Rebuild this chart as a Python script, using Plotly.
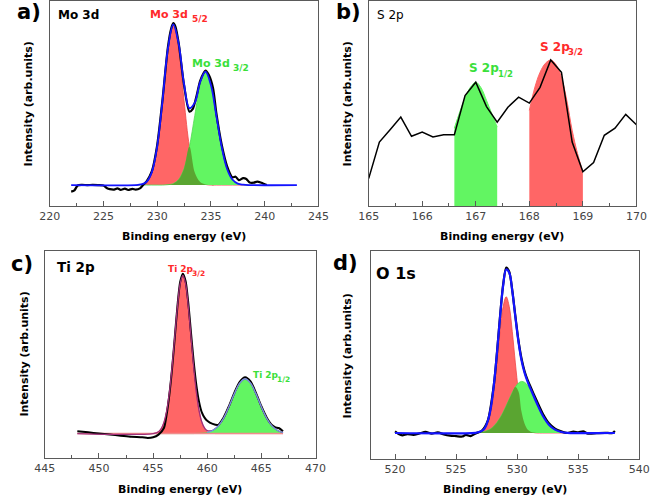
import plotly.graph_objects as go

W, H = 660, 499

# ---------------- Panel a: Mo 3d ----------------
a_exp_x = [222.0, 222.3, 222.6, 223.0, 223.5, 224.0, 224.5, 225.0, 225.3, 225.6, 226.0, 226.3, 226.6,
           227.0, 227.3, 227.7, 228.0, 228.4, 228.7, 229.0, 229.5, 230.0, 230.5, 231.0, 231.3, 231.5,
           231.7, 232.0, 232.5, 233.0, 233.3, 233.7, 234.0, 234.5, 234.8, 235.2, 235.5, 236.0, 236.5,
           237.0, 237.3, 237.6, 238.0, 238.3, 238.6, 239.0, 239.3, 239.7, 240.0, 240.2]
a_exp_y = [7.0, 7.6, 10.0, 10.3, 10.2, 10.3, 10.2, 10.0, 8.8, 8.2, 8.0, 8.6, 7.9,
           8.5, 7.8, 8.4, 8.0, 8.6, 10.3, 11.9, 16.9, 29.6, 52.0, 77.5, 86.5, 89.2,
           87.5, 79.5, 59.0, 46.0, 47.2, 54.5, 61.0, 66.0, 64.0, 57.5, 45.5, 30.0, 19.5,
           14.0, 14.3, 12.6, 13.6, 13.2, 11.5, 11.4, 11.9, 11.3, 10.6, 10.2]
a_grid = [228.0, 228.5, 229.0, 229.5, 230.0, 230.5, 231.0, 231.5, 232.0, 232.5, 233.0, 233.5,
          234.0, 234.5, 235.0, 235.5, 236.0, 236.5, 237.0, 237.5, 238.0, 238.5]
a_red = [10.2, 10.5, 11.7, 16.4, 29.0, 51.5, 76.5, 87.9, 76.5, 51.5, 29.0, 16.4,
         11.7, 10.5, 10.2, 10.2, 10.2, 10.2, 10.2, 10.2, 10.2, 10.2]
a_green = [10.2, 10.2, 10.2, 10.2, 10.2, 10.2, 10.4, 10.9, 12.9, 18.2, 28.9, 44.2,
           59.0, 65.2, 59.0, 44.2, 28.9, 18.2, 12.9, 10.9, 10.4, 10.2]
a_base = 10.2
a_env_start, a_env_end = 222.0, 243.0

# ---------------- Panel b: S 2p ----------------
b_exp_x = [165.0, 165.2, 165.4, 165.6, 165.8, 166.0, 166.2, 166.4, 166.6, 166.8, 167.0, 167.2, 167.4,
           167.6, 167.8, 168.0, 168.2, 168.4, 168.6, 168.8, 169.0, 169.2, 169.4, 169.6, 169.8, 170.0]
b_exp_y = [13.4, 31.2, 37.2, 43.4, 34.0, 36.1, 33.7, 34.8, 34.8, 53.9, 60.4, 48.5, 40.9,
           48.2, 53.1, 50.2, 57.9, 71.2, 65.2, 31.2, 16.7, 21.2, 34.5, 38.0, 44.7, 39.6]
b_green_x = [166.6, 166.7, 166.8, 166.9, 167.0, 167.1, 167.2, 167.3, 167.4]
b_green_y = [38.0, 45.8, 52.8, 57.9, 60.4, 57.6, 51.5, 45.0, 38.5]
b_red_x = [168.0, 168.1, 168.2, 168.3, 168.4, 168.5, 168.6, 168.7, 168.8, 168.9, 169.0]
b_red_y = [46.6, 57.6, 65.2, 69.6, 71.2, 68.9, 62.8, 51.5, 36.9, 25.6, 16.7]

# ---------------- Panel c: Ti 2p ----------------
c_exp_x = [448.0, 449.0, 450.0, 451.0, 452.0, 453.0, 454.0, 454.5, 455.0, 455.5, 456.0, 456.25,
           456.5, 456.75, 457.0, 457.25, 457.5, 457.75, 458.0, 458.25, 458.5, 458.75, 459.0, 459.25,
           459.5, 459.75, 460.0, 460.5, 461.0, 461.5, 462.0, 462.5, 463.0, 463.5, 464.0, 464.5,
           465.0, 465.5, 466.0, 466.3, 466.6, 467.0]
c_exp_y = [12.9, 12.4, 11.8, 11.3, 10.8, 10.3, 10.0, 9.7, 10.0, 11.3, 14.5, 21.0,
           30.5, 43.0, 58.0, 73.5, 85.0, 89.0, 85.5, 75.0, 60.5, 46.5, 35.0, 27.0,
           22.0, 19.5, 18.0, 16.5, 16.0, 19.5, 25.0, 31.5, 36.8, 39.0, 37.0, 31.5,
           25.0, 19.5, 15.8, 14.8, 14.5, 12.9]
c_grid = [455.0, 455.5, 455.75, 456.0, 456.25, 456.5, 456.75, 457.0, 457.25, 457.5, 457.75, 458.0,
          458.25, 458.5, 458.75, 459.0, 459.25, 459.5, 459.75, 460.0, 460.5, 461.0, 461.5, 462.0,
          462.5, 463.0, 463.5, 464.0, 464.5, 465.0, 465.5, 466.0, 466.5, 467.0]
c_red = [11.8, 12.7, 14.2, 17.2, 22.7, 31.5, 43.9, 58.7, 73.3, 84.2, 88.2, 84.2,
         73.3, 58.7, 43.9, 31.5, 22.7, 17.2, 14.2, 12.7, 11.9, 11.8, 11.8, 11.8,
         11.8, 11.8, 11.8, 11.8, 11.8, 11.8, 11.8, 11.8, 11.8, 11.8]
c_green = [11.8, 11.8, 11.8, 11.8, 11.8, 11.8, 11.8, 11.8, 11.8, 11.8, 11.8, 11.8,
           11.8, 11.8, 11.8, 11.9, 11.9, 12.0, 12.1, 12.3, 13.3, 15.4, 19.1, 24.7,
           31.0, 36.2, 38.2, 36.2, 31.0, 24.7, 19.1, 15.4, 13.3, 12.3]
c_base = 11.8
c_base_start, c_base_end = 448.0, 467.0

# ---------------- Panel d: O 1s ----------------
d_exp_x = [520.0, 520.3, 520.6, 521.0, 521.5, 522.0, 522.5, 523.0, 523.5, 524.0, 524.5, 525.0,
           525.5, 525.8, 526.2, 526.6, 527.1, 527.6, 528.1, 528.35, 528.6, 528.85, 529.1, 529.35,
           529.6, 529.85, 530.1, 530.35, 530.6, 530.85, 531.1, 531.6, 532.1, 532.6, 533.1, 533.6,
           534.1, 534.6, 535.0, 535.4, 535.8, 536.5, 537.2, 537.8, 538.0]
d_exp_y = [13.3, 12.0, 11.4, 12.0, 11.6, 12.3, 13.0, 12.2, 12.8, 11.8, 11.2, 11.0,
           10.8, 11.6, 11.0, 12.3, 13.6, 18.6, 36.2, 51.5, 68.8, 83.8, 92.0, 90.0,
           81.0, 68.8, 57.2, 48.4, 42.3, 38.0, 34.6, 28.0, 21.8, 17.2, 14.6, 13.3,
           12.5, 13.2, 12.8, 13.3, 12.2, 12.4, 12.6, 12.5, 13.5]
d_grid = [526.6, 526.85, 527.1, 527.35, 527.6, 527.85, 528.1, 528.35, 528.6, 528.85, 529.1, 529.35,
          529.6, 529.85, 530.1, 530.35, 530.6, 530.85, 531.1, 531.35, 531.6, 532.1, 532.6, 533.1,
          533.6, 534.1]
d_red = [12.5, 12.7, 13.1, 14.2, 17.1, 22.8, 32.6, 46.2, 61.2, 73.3, 78.0, 73.3,
         61.2, 46.2, 32.6, 22.8, 17.1, 14.2, 13.1, 12.7, 12.5, 12.5, 12.5, 12.5,
         12.5, 12.5]
d_green = [12.6, 12.7, 12.9, 13.2, 13.8, 14.6, 15.9, 17.6, 19.8, 22.5, 25.6, 28.8,
           32.0, 34.6, 36.5, 37.3, 36.9, 35.5, 33.1, 30.1, 26.9, 20.8, 16.5, 14.1,
           13.0, 12.6]
d_base = 12.5
d_env_start, d_env_end = 520.0, 538.0

# text
x_title = "Binding energy (eV)"
y_title = "Intensity (arb.units)"

# ---------------- styling ----------------
FONT = "DejaVu Sans"
FRAME = "#5a5a5a"
TICKC = "#454545"
RED_FILL = "#FF6666"
GREEN_FILL = "#62F562"
OLIVE = "#5AA531"
BLUE = "#1414FF"

fig = go.Figure()


def add(ax, **kw):
    xa, ya = ("x", "y") if ax == 1 else ("x%d" % ax, "y%d" % ax)
    fig.add_trace(go.Scatter(xaxis=xa, yaxis=ya, showlegend=False, hoverinfo="skip", **kw))


def component(ax, xs, ys, base, fill, linecolor, lw=0.8):
    add(ax, x=xs, y=[base] * len(xs), mode="lines", line=dict(width=0, shape="spline"))
    add(ax, x=xs, y=ys, mode="lines", fill="tonexty", fillcolor=fill,
        line=dict(color=linecolor, width=lw, shape="spline"))


# Panel a
component(1, a_grid, a_red, a_base, RED_FILL, "#F04848")
component(1, a_grid, a_green, a_base, GREEN_FILL, "#4FDD4F")
component(1, a_grid, [min(r, g) for r, g in zip(a_red, a_green)], a_base, OLIVE, "rgba(0,0,0,0)", 0)
add(1, x=a_exp_x, y=a_exp_y, mode="lines", line=dict(color="black", width=2.2, shape="spline", smoothing=0.7))
add(1, x=[a_env_start] + a_grid + [a_env_end],
    y=[a_base] + [r + g - a_base for r, g in zip(a_red, a_green)] + [a_base],
    mode="lines", line=dict(color=BLUE, width=1.8, shape="spline"))

# Panel b
add(2, x=b_green_x, y=b_green_y, mode="lines", fill="tozeroy", fillcolor=GREEN_FILL,
    line=dict(color=GREEN_FILL, width=1, shape="spline"))
add(2, x=b_red_x, y=b_red_y, mode="lines", fill="tozeroy", fillcolor=RED_FILL,
    line=dict(color=RED_FILL, width=1, shape="spline"))
add(2, x=b_exp_x, y=b_exp_y, mode="lines", line=dict(color="black", width=1.5))

# Panel c
component(3, c_grid, c_red, c_base, RED_FILL, "#E04060")
component(3, c_grid, c_green, c_base, GREEN_FILL, "#4FDD4F")
add(3, x=[c_base_start, c_base_end], y=[c_base, c_base], mode="lines",
    line=dict(color="#F08C8C", width=1.6))
add(3, x=c_exp_x, y=c_exp_y, mode="lines", line=dict(color="black", width=2.0, shape="spline", smoothing=0.7))
add(3, x=[c_base_start] + c_grid,
    y=[c_base] + [r + g - c_base for r, g in zip(c_red, c_green)],
    mode="lines", line=dict(color="#A0307A", width=1.3, shape="spline"))
add(3, x=c_grid[19:], y=c_green[19:], mode="lines", line=dict(color="#6C9BE8", width=1.2, shape="spline"))

# Panel d
component(4, d_grid, d_red, d_base, RED_FILL, "#F04848")
component(4, d_grid, d_green, d_base, GREEN_FILL, "#4FDD4F")
component(4, d_grid, [min(r, g) for r, g in zip(d_red, d_green)], d_base, OLIVE, "rgba(0,0,0,0)", 0)
add(4, x=d_exp_x, y=d_exp_y, mode="lines", line=dict(color="black", width=2.2, shape="spline", smoothing=0.7))
add(4, x=[d_env_start] + d_grid + [d_env_end],
    y=[d_base] + [r + g - d_base for r, g in zip(d_red, d_green)] + [d_base],
    mode="lines", line=dict(color=BLUE, width=2.2, shape="spline"))


def PX(p):
    return p / W


def PY(p):
    return 1 - p / H


def xax(x0, x1, y_anchor, rng, dtick, minor):
    return dict(domain=[PX(x0), PX(x1)], anchor=y_anchor, range=rng, showline=True, linecolor=FRAME,
                linewidth=1.2, mirror=True, ticks="inside", ticklen=5, tickwidth=1, tickcolor=FRAME,
                dtick=dtick, tick0=0, minor=dict(ticks="inside", ticklen=3, dtick=minor, tickcolor=FRAME,
                                                  showgrid=False),
                showgrid=False, zeroline=False, tickfont=dict(family=FONT, size=11, color=TICKC))


def yax(y0, y1, x_anchor):
    return dict(domain=[PY(y1), PY(y0)], anchor=x_anchor, range=[0, 100], showline=True, linecolor=FRAME,
                linewidth=1.2, mirror=True, ticks="", showticklabels=False, showgrid=False, zeroline=False)


layout = dict(
    width=W, height=H, margin=dict(l=0, r=0, t=0, b=0), paper_bgcolor="white", plot_bgcolor="white",
    font=dict(family=FONT, size=11), showlegend=False,
    xaxis=xax(40, 318, "y", [220, 245], 5, 2.5), yaxis=yax(1, 206, "x"),
    xaxis2=xax(370, 647, "y2", [165, 170], 1, 0.5), yaxis2=yax(1, 206, "x2"),
    xaxis3=xax(35, 315, "y3", [445, 470], 5, 2.5), yaxis3=yax(251, 458, "x3"),
    xaxis4=xax(372, 650, "y4", [518, 540], 5, 2.5), yaxis4=yax(251, 459, "x4"),
)
fig.update_layout(**layout)

anns = []


def ann(text, px, py, size, color="black", xanchor="center", angle=0, bold=True):
    anns.append(dict(text=("<b>%s</b>" % text) if bold else text, x=PX(px), y=PY(py),
                     xref="paper", yref="paper", showarrow=False,
                     xanchor=xanchor, yanchor="middle", textangle=angle,
                     font=dict(family=FONT, size=size, color=color)))


# panel letters
ann("a)", 19, 12, 21)
ann("b)", 349, 12, 21)
ann("c)", 11, 264, 21)
ann("d)", 346, 263, 21)
# element labels
ann("Mo 3d", 47, 15, 12, xanchor="left")
ann("S 2p", 377, 15, 12, xanchor="left", bold=False)
ann("Ti 2p", 45, 267, 13.5, xanchor="left")
ann("O 1s", 375, 273, 16, xanchor="left")
# peak labels (main text + subscript)
RED_T = "#FF2A2A"
GREEN_T = "#3AE03A"
ann("Mo 3d", 142, 14, 11, RED_T, "left")
ann("5/2", 185, 19, 9, RED_T, "left")
ann("Mo 3d", 185, 63, 11, GREEN_T, "left")
ann("3/2", 228, 68, 9, GREEN_T, "left")
ann("S 2p", 472, 68, 12, GREEN_T, "left")
ann("1/2", 502, 74, 8.5, GREEN_T, "left")
ann("S 2p", 545, 47, 12, RED_T, "left")
ann("3/2", 574, 52, 8.5, RED_T, "left")
ann("Ti 2p", 160, 269, 9, RED_T, "left")
ann("3/2", 185, 273, 7.5, RED_T, "left")
ann("Ti 2p", 248, 375, 9, GREEN_T, "left")
ann("1/2", 273, 379, 7.5, GREEN_T, "left")
# axis titles
ann(x_title, 179, 237, 11)
ann(x_title, 508, 237, 11)
ann(x_title, 175, 489, 11)
ann(x_title, 511, 489, 11)
ann(y_title, 18, 104, 11, angle=-90)
ann(y_title, 348, 104, 11, angle=-90)
ann(y_title, 13, 354, 11, angle=-90)
ann(y_title, 348, 356, 11, angle=-90)

fig.update_layout(annotations=anns)
fig.write_html("out.html", config={"displayModeBar": False},
               post_script="document.body.style.margin='0';document.body.style.overflow='hidden';")
